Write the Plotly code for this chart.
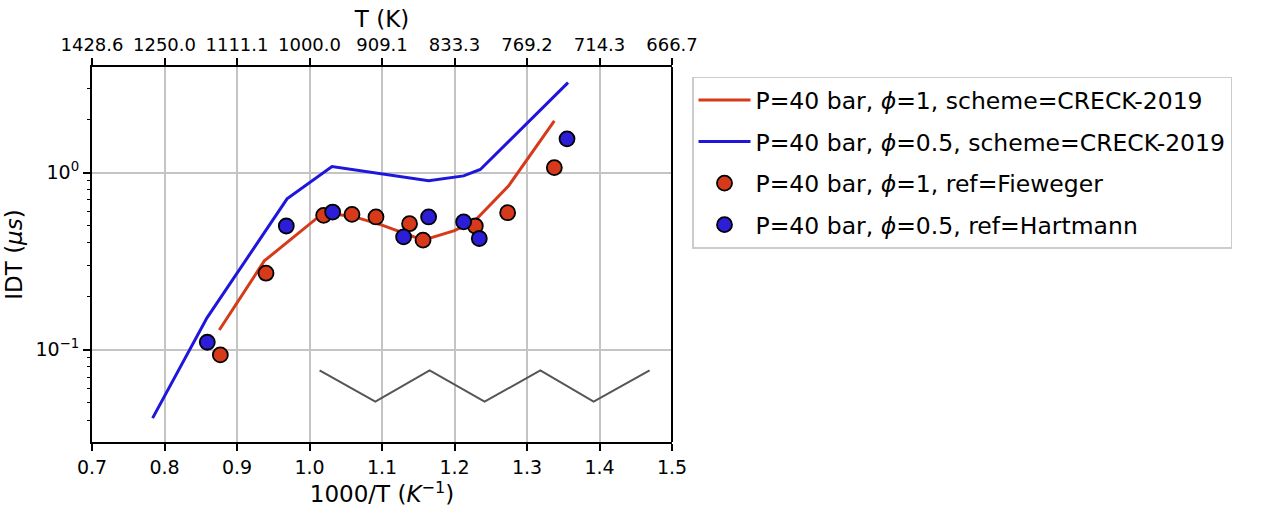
import plotly.graph_objects as go
import numpy as np

# Simulated curves (CRECK-2019)
sim_phi1_x = [0.8756, 0.9377, 1.0195, 1.0600, 1.1000, 1.1566, 1.2000, 1.2287, 1.2747, 1.3377]
sim_phi1_y = [0.129, 0.317, 0.593, 0.565, 0.505, 0.415, 0.470, 0.537, 0.842, 1.96]
sim_phi05_x = [0.7836, 0.8586, 0.9690, 1.0310, 1.1643, 1.2126, 1.2356, 1.3566]
sim_phi05_y = [0.041, 0.151, 0.71, 1.08, 0.898, 0.957, 1.04, 3.22]

# Experimental data
fie_x = [0.877, 0.940, 1.0195, 1.0586, 1.0917, 1.138, 1.1566, 1.2287, 1.2733, 1.3377]
fie_y = [0.0933, 0.270, 0.573, 0.580, 0.561, 0.514, 0.415, 0.499, 0.593, 1.066]
har_x = [0.859, 0.968, 1.0319, 1.1298, 1.1643, 1.2126, 1.2342, 1.3552]
har_y = [0.110, 0.499, 0.598, 0.433, 0.561, 0.526, 0.424, 1.55]

# Gray zigzag line
zig_x = [1.0139, 1.0908, 1.1657, 1.2415, 1.3184, 1.3919, 1.4691]
zig_y = [0.0763, 0.0508, 0.0763, 0.0508, 0.0763, 0.0508, 0.0763]

x_ticks = [0.7, 0.8, 0.9, 1.0, 1.1, 1.2, 1.3, 1.4, 1.5]
top_labels = ["%.1f" % (1000.0 / v) for v in x_ticks]
y_major = [0.1, 1.0]
y_major_text = ["10<sup>−1</sup>", "10<sup>0</sup>"]
y_minor = [m * d for d in [0.01, 0.1, 1.0] for m in range(2, 10)]

RED = "#d63a1a"
BLUE = "#2c1dd6"
LBLUE = "#1f16dc"

yr = [-1.522, 0.596]
xr = [0.7, 1.5]

fig = go.Figure()
fig.add_trace(go.Scatter(x=sim_phi1_x, y=sim_phi1_y, mode="lines", legendgroup="a",
                         line=dict(color=RED, width=3),
                         name="P=40 bar, <i>ϕ</i>=1, scheme=CRECK-2019"))
fig.add_trace(go.Scatter(x=sim_phi05_x, y=sim_phi05_y, mode="lines", legendgroup="b",
                         line=dict(color=LBLUE, width=3),
                         name="P=40 bar, <i>ϕ</i>=0.5, scheme=CRECK-2019"))
fig.add_trace(go.Scatter(x=fie_x, y=fie_y, mode="markers", legendgroup="c",
                         marker=dict(color=RED, size=15, line=dict(color="black", width=1.8)),
                         name="P=40 bar, <i>ϕ</i>=1, ref=Fieweger"))
fig.add_trace(go.Scatter(x=har_x, y=har_y, mode="markers", legendgroup="d",
                         marker=dict(color=BLUE, size=15, line=dict(color="black", width=1.8)),
                         name="P=40 bar, <i>ϕ</i>=0.5, ref=Hartmann"))
fig.add_trace(go.Scatter(x=zig_x, y=zig_y, mode="lines",
                         line=dict(color="#555555", width=2), showlegend=False,
                         hoverinfo="skip"))
# top axis carrier (invisible)
fig.add_trace(go.Scatter(x=[xr[0]], y=[1], xaxis="x2", mode="markers",
                         marker=dict(opacity=0), showlegend=False, hoverinfo="skip"))
# minor y-tick carrier (invisible)
fig.add_trace(go.Scatter(x=[xr[0]], y=[1], yaxis="y2", mode="markers",
                         marker=dict(opacity=0), showlegend=False, hoverinfo="skip"))

font = "DejaVu Sans"
fig.update_layout(
    width=1272, height=508,
    paper_bgcolor="white", plot_bgcolor="white",
    margin=dict(l=92, r=600, t=67, b=62),
    font=dict(family=font, color="black"),
    xaxis=dict(range=xr, tickvals=x_ticks, ticktext=["%.1f" % v for v in x_ticks],
               showgrid=True, gridcolor="#c4c4c4", gridwidth=1.8,
               showline=True, linecolor="black", linewidth=2, mirror=False,
               ticks="outside", ticklen=7, tickwidth=1.5, tickcolor="black",
               tickfont=dict(size=19), zeroline=False,
               title=dict(text="1000/T (<i>K</i><sup>−1</sup>)", font=dict(size=23), standoff=2)),
    xaxis2=dict(range=xr, overlaying="x", side="top", tickvals=x_ticks, ticktext=top_labels,
                showgrid=False, showline=True, linecolor="black", linewidth=2,
                ticks="outside", ticklen=7, tickwidth=1.5, tickcolor="black",
                tickfont=dict(size=18), zeroline=False,
                title=dict(text="T (K)", font=dict(size=23), standoff=0)),
    yaxis=dict(type="log", range=yr, tickvals=y_major, ticktext=y_major_text,
               showgrid=True, gridcolor="#c4c4c4", gridwidth=1.8,
               showline=True, linecolor="black", linewidth=2,
               ticks="outside", ticklen=7, tickwidth=1.5, tickcolor="black",
               tickfont=dict(size=19), zeroline=False,
               title=dict(text="IDT (<i>μs</i>)", font=dict(size=23), standoff=6)),
    yaxis2=dict(type="log", range=yr, overlaying="y", side="left", tickvals=y_minor,
                showticklabels=False, showgrid=False, showline=False,
                ticks="outside", ticklen=4, tickwidth=1.2, tickcolor="black", zeroline=False),
    legend=dict(x=1.0345, y=0.974, xanchor="left", yanchor="top",
                bgcolor="white", bordercolor="#cccccc", borderwidth=1.5,
                font=dict(size=23.5), tracegroupgap=8, itemwidth=52),
    shapes=[dict(type="line", xref="paper", yref="paper", x0=1, x1=1, y0=0, y1=1,
                 line=dict(color="black", width=2))],
)

fig.write_html("out.html")
